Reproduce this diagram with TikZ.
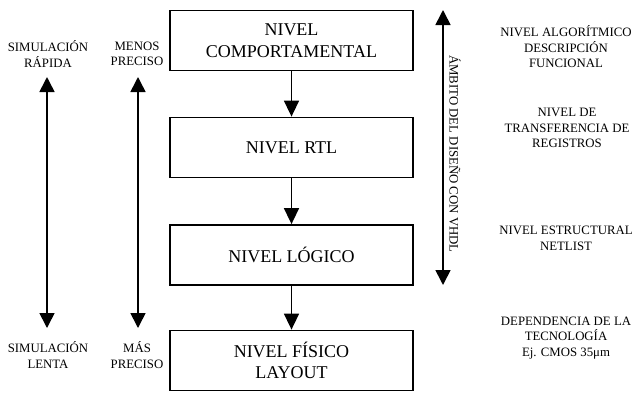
\documentclass[tikz,border=0pt]{standalone}
\usepackage{fontspec}
\setmainfont{Liberation Serif}
\usetikzlibrary{arrows.meta}
\begin{document}
\begin{tikzpicture}[x=1pt,y=-1pt,
  lvlbox/.style={draw,line width=1.8pt,minimum width=243pt,minimum height=60pt,inner sep=0pt,align=center,font=\fontsize{18}{21.5}\selectfont},
  side/.style={align=center,inner sep=0pt,font=\fontsize{12.8}{15.5}\selectfont},
  conn/.style={line width=1.6pt,-{Triangle[length=16pt,width=15pt]}},
  dbl/.style={line width=1.6pt,{Triangle[length=15pt,width=15pt]}-{Triangle[length=15pt,width=15pt]}}]
\useasboundingbox (0,0) rectangle (636,392);
\node[lvlbox] (b1) at (291.5,40.5) {NIVEL\\COMPORTAMENTAL};
\node[lvlbox] (b2) at (291.5,147.5) {NIVEL RTL};
\node[lvlbox] (b3) at (291.5,255) {NIVEL LÓGICO};
\node[lvlbox] (b4) at (291.5,360.5) {NIVEL FÍSICO\\LAYOUT};
\draw[conn] (b1) -- (b2);
\draw[conn] (b2) -- (b3);
\draw[conn] (b3) -- (b4);
\node[side] (sr) at (48,54) {SIMULACIÓN\\RÁPIDA};
\node[side] (sl) at (48,355) {SIMULACIÓN\\LENTA};
\node[side] (mp) at (137,54) {MENOS\\PRECISO};
\node[side] (map) at (137,355) {MÁS\\PRECISO};
\coordinate (a1t) at (47,77);
\coordinate (a1b) at (47,328);
\coordinate (a2t) at (138,77);
\coordinate (a2b) at (138,328);
\draw[dbl] (a1t) -- (a1b);
\draw[dbl] (a2t) -- (a2b);
\coordinate (vt) at (443,10);
\coordinate (vb) at (443,285);
\draw[dbl] (vt) -- (vb);
\node[side,rotate=-90] (amb) at (455,154) {ÁMBITO DEL DISEÑO CON VHDL};
\node[side] (r1) at (566,47) {NIVEL ALGORÍTMICO\\DESCRIPCIÓN\\FUNCIONAL};
\node[side] (r2) at (567,128) {NIVEL DE\\TRANSFERENCIA DE\\REGISTROS};
\node[side] (r3) at (566,238.5) {NIVEL ESTRUCTURAL\\NETLIST};
\node[side] (r4) at (566,338) {DEPENDENCIA DE LA\\TECNOLOGÍA\\Ej. CMOS 35μm};
\end{tikzpicture}
\end{document}
